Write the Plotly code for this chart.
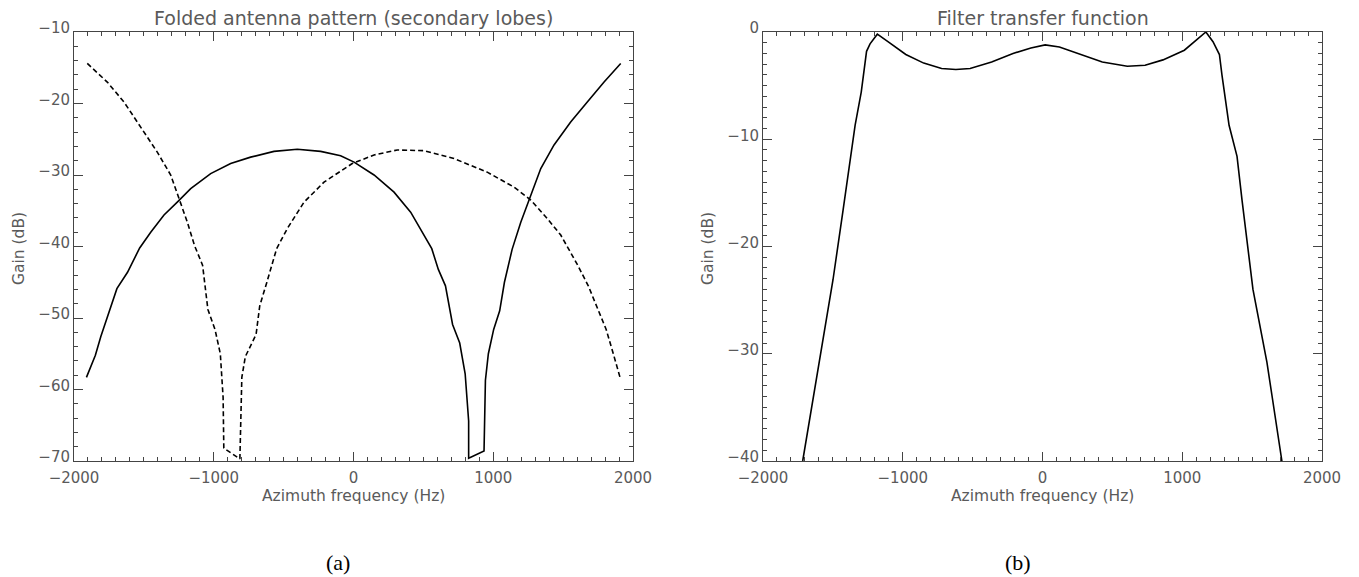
import plotly.graph_objects as go

# ---- Data ----
solid_f = [-1911, -1847, -1808, -1745, -1693, -1617, -1530, -1451, -1356, -1261, -1165, -1022, -879,
           -736, -569, -402, -235, -92, 4, 147, 290, 409, 504, 560, 607, 658, 709, 760, 799, 824, 824,
           934, 944, 965, 1003, 1046, 1080, 1135, 1197, 1268, 1340, 1435, 1554, 1673, 1793, 1912]
solid_g = [-58.3, -55.2, -52.6, -48.8, -45.9, -43.6, -40.2, -38.0, -35.6, -33.8, -31.9, -29.8, -28.4,
           -27.5, -26.7, -26.4, -26.7, -27.3, -28.2, -30.0, -32.4, -35.2, -38.4, -40.3, -43.2, -45.5,
           -50.9, -53.5, -57.8, -64.4, -69.6, -68.6, -58.7, -55.0, -51.6, -49.0, -45.0, -40.4, -36.6,
           -32.8, -29.1, -25.8, -22.6, -19.8, -17.0, -14.4]

dash_f = [-1905, -1762, -1642, -1523, -1404, -1308, -1249, -1189, -1137, -1080, -1042, -991, -953,
          -933, -928, -813, -799, -774, -697, -671, -620, -550, -474, -354, -211, -9, 147, 313, 504,
          719, 957, 1149, 1268, 1387, 1483, 1540, 1604, 1680, 1757, 1808, 1859, 1910]
dash_g = [-14.4, -17.0, -19.8, -23.3, -26.8, -30.0, -33.3, -36.6, -39.9, -42.6, -48.8, -51.6, -55.0,
          -61.1, -68.2, -69.7, -58.3, -55.4, -52.3, -48.3, -45.0, -40.3, -37.5, -33.8, -31.0, -28.4,
          -27.2, -26.5, -26.6, -27.7, -29.6, -31.7, -33.5, -36.1, -38.4, -40.4, -42.6, -45.5, -49.3,
          -51.6, -55.0, -58.5]

filt_f = [-1716, -1592, -1499, -1427, -1377, -1341, -1297, -1259, -1234, -1182, -1106, -978, -850,
          -722, -620, -518, -364, -211, -83, 19, 121, 249, 428, 607, 734, 862, 1015, 1169, 1220,
          1266, 1284, 1335, 1392, 1428, 1464, 1506, 1606, 1713]
filt_g = [-40.0, -30.3, -23.1, -16.6, -11.9, -8.7, -5.6, -1.8, -1.1, -0.2, -0.9, -2.1, -2.9,
          -3.4, -3.5, -3.4, -2.8, -2.0, -1.5, -1.2, -1.4, -2.0, -2.8, -3.2, -3.1, -2.6, -1.7, 0.0,
          -0.9, -2.1, -4.0, -8.7, -11.6, -15.7, -19.7, -24.0, -30.8, -40.0]

x_ticks = [-2000, -1000, 0, 1000, 2000]
x_ticktext = ["\u22122000", "\u22121000", "0", "1000", "2000"]
ya_ticks = [-70, -60, -50, -40, -30, -20, -10]
yb_ticks = [-40, -30, -20, -10, 0]

TXT = "#5a5a5a"
AX = "#444444"
FONT = "DejaVu Sans"

fig = go.Figure()
fig.add_trace(go.Scatter(x=solid_f, y=solid_g, mode="lines",
                         line=dict(color="black", width=1.6), xaxis="x", yaxis="y", showlegend=False))
fig.add_trace(go.Scatter(x=dash_f, y=dash_g, mode="lines",
                         line=dict(color="black", width=1.6, dash="5px,3px"), xaxis="x", yaxis="y", showlegend=False))
fig.add_trace(go.Scatter(x=filt_f, y=filt_g, mode="lines",
                         line=dict(color="black", width=1.6), xaxis="x2", yaxis="y2", showlegend=False))

W, H = 1359, 577
def px(x): return x / W
def py(y): return 1 - y / H

common = dict(showline=True, linecolor=AX, linewidth=1, mirror="ticks", ticks="inside",
              tickcolor=AX, tickwidth=1, showgrid=False, zeroline=False, automargin=False,
              tickfont=dict(family=FONT, size=15, color=TXT))
xax = dict(common, range=[-2000, 2000], tickvals=x_ticks, ticktext=x_ticktext, ticklen=9,
           ticklabelstandoff=3,
           minor=dict(ticks="inside", ticklen=4, dtick=100, tickcolor=AX, showgrid=False))

def yax(rng, ticks, minor_dt):
    return dict(common, range=rng, tickvals=ticks,
                ticktext=[str(v).replace("-", "\u2212") for v in ticks], ticklen=9,
                ticklabelshift=-4, domain=[py(461), py(32)],
                minor=dict(ticks="inside", ticklen=4, dtick=minor_dt, tickcolor=AX, showgrid=False))

fig.update_layout(
    template="none",
    width=W, height=H, margin=dict(l=0, r=0, t=0, b=0, autoexpand=False),
    paper_bgcolor="white", plot_bgcolor="white",
    xaxis=dict(xax, domain=[px(74), px(633)], anchor="y"),
    yaxis=dict(yax([-70, -10], ya_ticks, 2), anchor="x"),
    xaxis2=dict(xax, domain=[px(763), px(1322)], anchor="y2"),
    yaxis2=dict(yax([-40, 0], yb_ticks, 1), anchor="x2"),
)

ann = []
def A(text, x, y, size, rot=0, family=FONT, color=TXT):
    ann.append(dict(text=text, x=px(x), y=py(y), xref="paper", yref="paper", showarrow=False,
                    xanchor="center", yanchor="middle", textangle=rot,
                    font=dict(family=family, size=size, color=color)))

A("Folded antenna pattern (secondary lobes)", 353.5, 18, 19)
A("Filter transfer function", 1042.5, 18, 19)
A("Azimuth frequency (Hz)", 353.5, 496, 15.5)
A("Azimuth frequency (Hz)", 1042.5, 496, 15.5)
A("Gain (dB)", 19, 249, 15.5, rot=-90)
A("Gain (dB)", 708, 249, 15.5, rot=-90)
A("(a)", 338, 562, 22, family="Liberation Serif", color="black")
A("(b)", 1018, 562, 22, family="Liberation Serif", color="black")
fig.update_layout(annotations=ann)

fig.write_html("out.html")
